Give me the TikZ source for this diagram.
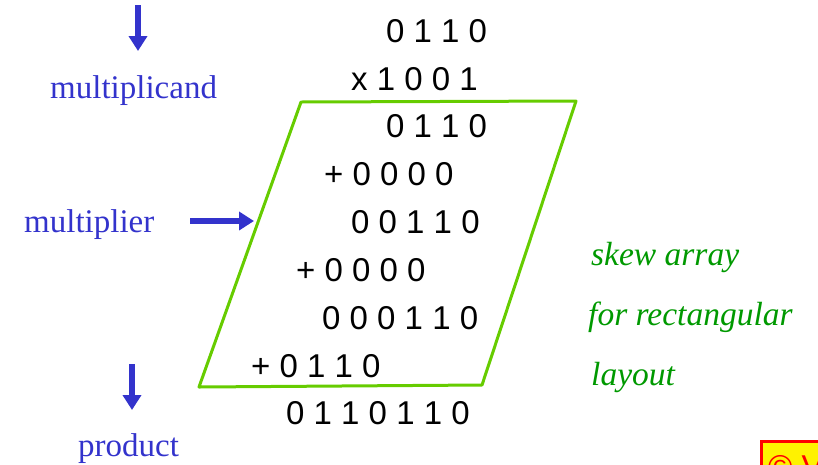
\documentclass[tikz,border=0pt]{standalone}
\usepackage{fontspec}
\setmainfont{Liberation Serif}
\newfontfamily\bitfont{Liberation Sans}
\usetikzlibrary{arrows.meta}
\definecolor{arrowblue}{RGB}{51,51,204}
\definecolor{skewgreen}{RGB}{102,204,0}
\definecolor{notegreen}{RGB}{0,153,0}
\begin{document}
\begin{tikzpicture}[x=1pt,y=-1pt,
  bits/.style={anchor=base west,inner sep=0pt,font=\bitfont\fontsize{33}{40}\selectfont},
  lbl/.style={anchor=base west,inner sep=0pt,text=arrowblue,font=\fontsize{33}{40}\selectfont},
  note/.style={anchor=base west,inner sep=0pt,text=notegreen,font=\itshape\fontsize{33.5}{40}\selectfont},
  bigarrow/.style={arrowblue,line width=6.5pt,-{Triangle[length=15pt,width=18pt]}}]
\useasboundingbox (0,0) rectangle (818,464);

\draw[skewgreen,line width=3pt,line join=round] (301,102) -- (576,101) -- (482,385) -- (199,387) -- cycle;

\node[bits] (r1) at (386,42) {0 1 1 0};
\node[bits] (r2) at (351,90) {x 1 0 0 1};
\node[bits] (r3) at (386,137) {0 1 1 0};
\node[bits] (r4) at (324,185) {+ 0 0 0 0};
\node[bits] (r5) at (351,233) {0 0 1 1 0};
\node[bits] (r6) at (296,281) {+ 0 0 0 0};
\node[bits] (r7) at (322,329) {0 0 0 1 1 0};
\node[bits] (r8) at (251,377) {+ 0 1 1 0};
\node[bits] (r9) at (286,424) {0 1 1 0 1 1 0};

\node[lbl] (mcand) at (50,98) {multiplicand};
\node[lbl] (mplier) at (24,232) {multiplier};
\node[lbl] (prod) at (78,456) {product};

\coordinate (mcand in) at (138,5);
\coordinate (mcand out) at (138,51);
\coordinate (mplier in) at (190,221);
\coordinate (mplier out) at (254,221);
\coordinate (prod in) at (132,364);
\coordinate (prod out) at (132,410);
\draw[bigarrow] (mcand in) -- (mcand out);
\draw[bigarrow] (mplier in) -- (mplier out);
\draw[bigarrow] (prod in) -- (prod out);

\node[note] (n1) at (591,265) {skew array};
\node[note] (n2) at (588,325) {for rectangular};
\node[note] (n3) at (591,385) {layout};

\draw[red,fill=yellow,line width=3pt] (761.5,441.5) rectangle (840,490);
\node[bits,text=red] (copy) at (768,478) {© V};
\end{tikzpicture}
\end{document}
